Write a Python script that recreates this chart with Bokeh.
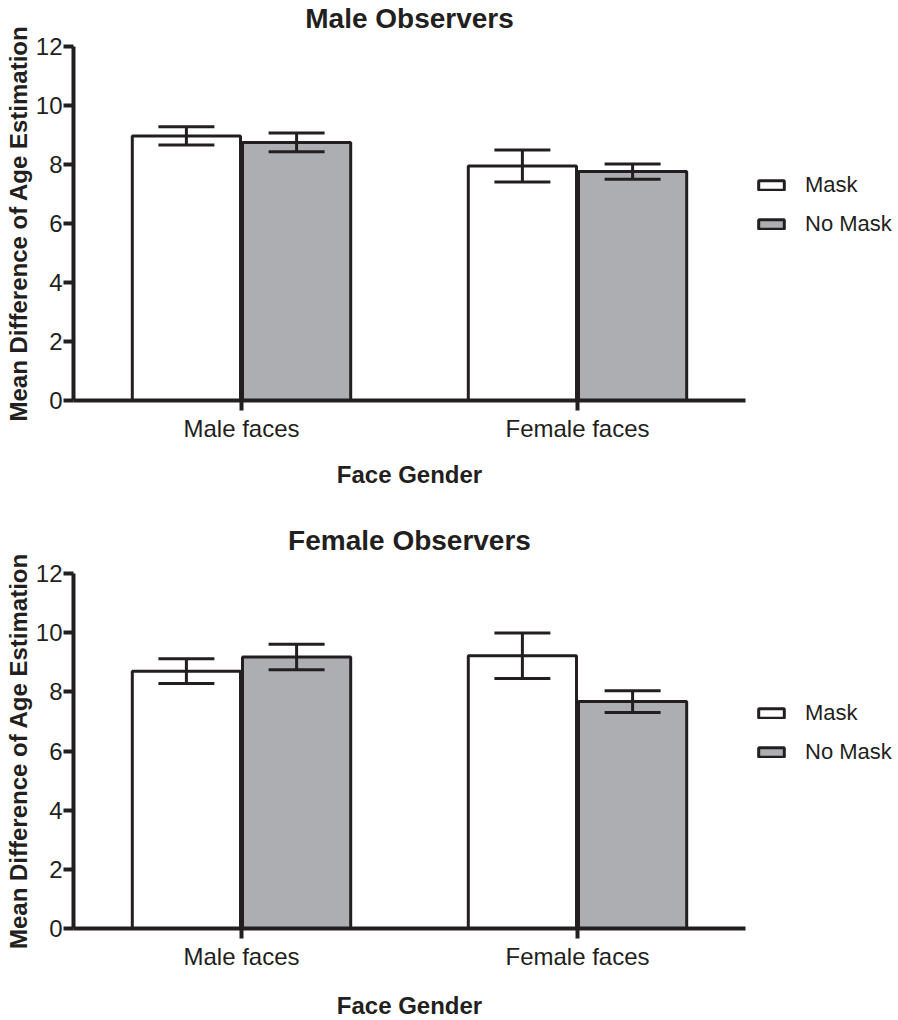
from bokeh.plotting import figure
from bokeh.models import (Range1d, ColumnDataSource, Whisker, TeeHead,
                          Legend, LegendItem, FixedTicker, Title)
from bokeh.transform import dodge
from bokeh.layouts import column
from bokeh.embed import file_html
from bokeh.resources import INLINE

# ---------------- data ----------------
categories = ["Male faces", "Female faces"]
series = ["Mask", "No Mask"]

male_obs_mask = [8.97, 7.95]
male_obs_mask_err = [0.31, 0.54]
male_obs_nomask = [8.75, 7.76]
male_obs_nomask_err = [0.32, 0.26]

female_obs_mask = [8.70, 9.22]
female_obs_mask_err = [0.42, 0.77]
female_obs_nomask = [9.18, 7.67]
female_obs_nomask_err = [0.43, 0.37]

y_ticks = [0, 2, 4, 6, 8, 10, 12]

INK = "#231f20"
GRAY = "#adaeb1"
FONT = "Liberation Sans"

FRAME_W = 825          # plot frame incl. legend area on the right
AXIS_W = 672           # part of the frame used by the categories

TITLE_W = {"Male Observers": 208.5, "Female Observers": 242.8}
XLABEL = "Face Gender"
XLABEL_W = 145.4


def make_panel(title, mask, mask_err, nomask, nomask_err,
               top_border, bottom_border, spacer, xgap):
    n = len(categories)
    xc = [i + 0.5 for i in range(n)]           # category centres on the scale
    src = ColumnDataSource(dict(
        x=xc,
        cat=categories,
        mask=mask,
        nomask=nomask,
        mask_lo=[m - e for m, e in zip(mask, mask_err)],
        mask_hi=[m + e for m, e in zip(mask, mask_err)],
        nomask_lo=[m - e for m, e in zip(nomask, nomask_err)],
        nomask_hi=[m + e for m, e in zip(nomask, nomask_err)],
    ))
    p = figure(x_range=Range1d(0, n * FRAME_W / AXIS_W), y_range=Range1d(0, 12),
               width=898, height=top_border + 355 + bottom_border,
               output_backend="svg", toolbar_location=None,
               min_border_left=73, min_border_right=0,
               min_border_top=top_border, min_border_bottom=bottom_border)

    off = 0.164
    bw = 0.322
    r_mask = p.vbar(x=dodge("x", -off), top="mask", width=bw,
                    source=src, fill_color="white", line_color=INK, line_width=3)
    r_nomask = p.vbar(x=dodge("x", off), top="nomask", width=bw,
                      source=src, fill_color=GRAY, line_color=INK, line_width=3)

    for key, o in (("mask", -off), ("nomask", off)):
        w = Whisker(base=dodge("x", o),
                    upper=key + "_hi", lower=key + "_lo", source=src,
                    line_color=INK, line_width=3, level="overlay",
                    upper_head=TeeHead(size=56, line_color=INK, line_width=3),
                    lower_head=TeeHead(size=56, line_color=INK, line_width=3))
        p.add_layout(w)

    p.xgrid.visible = False
    p.ygrid.visible = False
    p.outline_line_color = None
    p.yaxis.ticker = FixedTicker(ticks=y_ticks)
    p.xaxis.ticker = FixedTicker(ticks=xc)
    p.xaxis.major_label_overrides = {x: c for x, c in zip(xc, categories)}
    p.xaxis.bounds = (0, n)

    for ax in (p.xaxis[0], p.yaxis[0]):
        ax.axis_line_width = 4
        ax.axis_line_color = INK
        ax.major_tick_line_width = 4
        ax.major_tick_line_color = INK
        ax.major_tick_in = 0
        ax.major_tick_out = 10
        ax.minor_tick_line_color = None
        ax.major_label_text_font = FONT
        ax.major_label_text_font_size = "24px"
        ax.major_label_text_color = INK
        ax.axis_label_text_font = FONT
        ax.axis_label_text_font_style = "bold"
        ax.axis_label_text_color = INK

    p.yaxis.axis_label = "Mean Difference of Age Estimation"
    p.yaxis.axis_label_text_font_size = "24px"
    p.yaxis.axis_label_text_line_height = 1.0
    p.yaxis.axis_label_standoff = 1
    p.yaxis.major_label_standoff = 1
    p.xaxis.major_label_standoff = 4
    # blank axis label acts as a gap between tick labels and the x title
    p.xaxis.axis_label = " "
    p.xaxis.axis_label_text_font_size = "1px"
    p.xaxis.axis_label_standoff = xgap

    # x-axis title, centred under the category part of the axis
    p.add_layout(Title(text=XLABEL, align="left", offset=AXIS_W / 2 - XLABEL_W / 2,
                       text_font=FONT, text_font_size="24px", text_font_style="bold",
                       text_color=INK, standoff=0), "below")

    # spacer between frame and title, then the title itself (outermost)
    p.add_layout(Title(text=" ", text_font_size="1px", standoff=spacer), "above")
    tw = TITLE_W[title]
    p.add_layout(Title(text=title, align="left", offset=AXIS_W / 2 - tw / 2,
                       text_font=FONT, text_font_size="28px", text_font_style="bold",
                       text_color=INK, standoff=0), "above")

    legend = Legend(items=[LegendItem(label=series[0], renderers=[r_mask]),
                           LegendItem(label=series[1], renderers=[r_nomask])],
                    location=(682, 163), orientation="vertical",
                    glyph_width=32, glyph_height=12, label_height=25,
                    spacing=13, label_standoff=18,
                    label_text_font=FONT, label_text_font_size="22px",
                    label_text_color=INK, padding=0, margin=0,
                    border_line_color=None, background_fill_alpha=0)
    p.add_layout(legend)
    return p


p1 = make_panel("Male Observers", male_obs_mask, male_obs_mask_err,
                male_obs_nomask, male_obs_nomask_err, 45, 110, 10, 10)
p2 = make_panel("Female Observers", female_obs_mask, female_obs_mask_err,
                female_obs_nomask, female_obs_nomask_err, 63, 92, 15, 13)

layout = column(p1, p2, spacing=0)

open("out.html", "w").write(file_html(layout, INLINE))
